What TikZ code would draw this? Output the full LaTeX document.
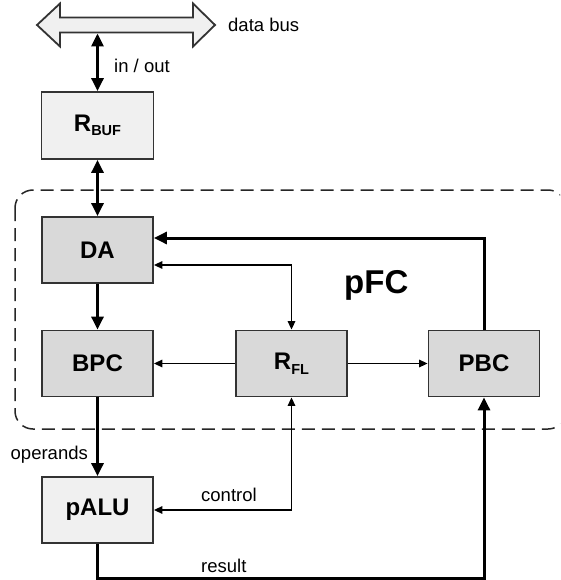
\documentclass[tikz,border=0pt]{standalone}
\usepackage{fontspec}
\setmainfont{Liberation Sans}
\usetikzlibrary{arrows.meta}
\tikzset{
  bighead/.tip={Triangle[length=13pt,width=12pt]},
  smallhead/.tip={Triangle[length=8.5pt,width=7.5pt]},
  blk/.style={draw=black!80, line width=1.8pt, minimum width=111pt, minimum height=66pt,
              inner sep=0pt, font=\fontsize{24}{26}\selectfont\bfseries},
  lightblk/.style={blk, fill=black!6},
  darkblk/.style={blk, fill=black!15},
  thickline/.style={line width=3pt, black},
  thinline/.style={line width=1.5pt, black},
  lbl/.style={font=\fontsize{18.5}{20}\selectfont, inner sep=0pt},
  group/.style={draw=black!85, line width=1.5pt, dash pattern=on 13pt off 7pt, rounded corners=18pt},
}
\newcommand{\subtxt}[1]{\raisebox{-4.5pt}{\fontsize{14.5}{16}\selectfont #1}}
\begin{document}
\begin{tikzpicture}[x=1pt,y=-1pt]
\useasboundingbox (0,0) rectangle (560,580);
\clip (0,0) rectangle (560,580);
\fill[white] (0,0) rectangle (560,580);

% group frame
\draw[group] (15,190) rectangle (566,429);
\node[font=\fontsize{33}{36}\selectfont\bfseries, inner sep=0pt, anchor=base west] (pfc) at (344,293) {pFC};

% data bus
\draw[fill=black!6, draw=black!80, line width=1.8pt, line join=miter]
  (37,25) -- (60,3.5) -- (60,17.5) -- (193,17.5) -- (193,3.5) -- (215,25)
  -- (193,46.5) -- (193,32.5) -- (60,32.5) -- (60,46.5) -- cycle;
\coordinate (busport) at (97.5,33.5);
\node[lbl, anchor=west] (lbus) at (228,25) {data bus};

% blocks
\node[lightblk, minimum width=112pt, minimum height=67pt] (rbuf) at (97.5,125.5) {R\subtxt{BUF}};
\node[darkblk] (da)  at (97.5,250) {DA};
\node[darkblk] (bpc) at (97.5,363.5) {BPC};
\node[darkblk] (rfl) at (291.5,363.5) {R\subtxt{FL}};
\node[darkblk] (pbc) at (484,363.5) {PBC};
\node[lightblk] (palu) at (97.5,510) {pALU};

% thick connectors
\draw[thickline, bighead-bighead] (busport) -- (rbuf.north);
\node[lbl, anchor=west] (lio) at (114,66) {in / out};
\draw[thickline, bighead-bighead] (rbuf.south) -- (da.north);
\draw[thickline, -bighead] (da.south) -- (bpc.north);
\draw[thickline, -bighead] (bpc.south) -- (palu.north);
\node[lbl, anchor=base west] (lops) at (10.5,459) {operands};
\draw[thickline, -bighead] (pbc.north) |- ([yshift=12pt]da.east);
\coordinate (rc) at (484,578.5);
\draw[thickline, -bighead] (palu.south) |- (rc) -- (pbc.south);
\node[lbl, anchor=base west] (lres) at (201,572.5) {result};

% thin connectors
\draw[thinline, smallhead-smallhead] ([yshift=-15pt]da.east) -| (rfl.north);
\draw[thinline, -smallhead] (rfl.west) -- (bpc.east);
\draw[thinline, -smallhead] (rfl.east) -- (pbc.west);
\draw[thinline, smallhead-smallhead] (palu.east) -| (rfl.south);
\node[lbl, anchor=base west] (lctl) at (201,501.5) {control};
\end{tikzpicture}
\end{document}
